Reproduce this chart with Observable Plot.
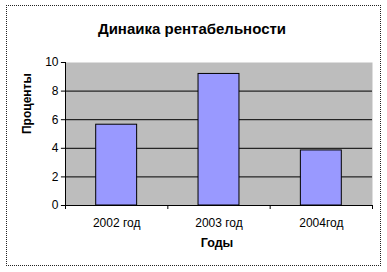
<!DOCTYPE html>
<html><head><meta charset="utf-8">
<script src="https://cdn.jsdelivr.net/npm/d3@7"></script>
<script src="https://cdn.jsdelivr.net/npm/@observablehq/plot@0.6"></script>
<style>
body{margin:0;background:#fff;}
#wrap{position:relative;width:387px;height:272px;overflow:hidden;}
#border{position:absolute;left:6px;top:5px;width:373px;height:259px;border:1px dotted #222;pointer-events:none;}
</style></head>
<body><div id="wrap"><div id="border"></div></div>
<script>
const title = "Динаика рентабельности";
const categories = ["2002 год", "2003 год", "2004год"];
const values = [5.65, 9.2, 3.85];
const yTicks = [0, 2, 4, 6, 8, 10];
const xLabel = "Годы";
const yLabel = "Проценты";

const data = categories.map((c, i) => ({c, i, v: values[i]}));
const font = "Liberation Sans, Arial, sans-serif";

const chart = Plot.plot({
  width: 387, height: 272,
  marginLeft: 65, marginRight: 15, marginTop: 62, marginBottom: 67,
  style: {fontFamily: font, fontSize: "11px", background: "transparent", color: "#000", overflow: "visible"},
  x: {type: "linear", domain: [0, 3], axis: null},
  y: {type: "linear", domain: [0, 10], axis: null},
  marks: [
    Plot.frame({fill: "#bdbdbd", stroke: null}),
    Plot.ruleY([2, 4, 6, 8], {stroke: "#000", strokeWidth: 1}),
    Plot.rectY(data, {x1: d => d.i + 0.3, x2: d => d.i + 0.7, y: "v", fill: "#9999ff", stroke: "#000", strokeWidth: 1}),
    Plot.ruleY([0], {stroke: "#000"}),
    Plot.ruleX([0], {stroke: "#000"}),
    Plot.ruleY(yTicks, {x1: -0.04, x2: 0, stroke: "#000", strokeWidth: 1}),
    Plot.text(yTicks, {x: () => 0, y: d => d, text: d => String(d), textAnchor: "end", dx: -7, fontSize: 12}),
    Plot.ruleX([0, 1, 2, 3], {y1: 0, y2: -0.28, stroke: "#000"}),
    Plot.text(data, {x: d => d.i + 0.5, y: () => 0, text: "c", dy: 18, fontSize: 12, ariaLabel: "cat-labels"}),
    Plot.text([xLabel], {frameAnchor: "bottom", dy: 41, dx: -2, fontWeight: "bold", fontSize: 12.5, ariaLabel: "x-title"}),
    Plot.text([yLabel], {frameAnchor: "left", dx: -38, rotate: -90, fontWeight: "bold", fontSize: 12, ariaLabel: "y-title"}),
    Plot.text([title], {frameAnchor: "top", dy: -39, fontWeight: "bold", fontSize: 15, dx: -27, ariaLabel: "chart-title"})
  ]
});
const spacing = {"cat-labels": "0.6", "x-title": "1", "y-title": "0.2", "chart-title": "0.8"};
for (const [k, v] of Object.entries(spacing)) {
  chart.querySelectorAll(`g[aria-label="${k}"] text`).forEach(t => t.setAttribute("letter-spacing", v));
}
document.getElementById("wrap").prepend(chart);
</script>
</body></html>
